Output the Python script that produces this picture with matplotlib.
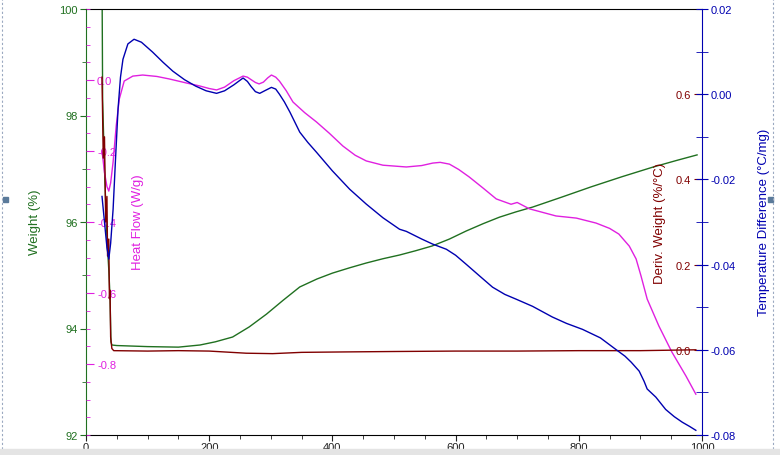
import matplotlib.pyplot as plt
from matplotlib.patches import Rectangle
from matplotlib.ticker import MultipleLocator, FormatStrFormatter

plt.rcParams['font.family'] = ['Liberation Sans', 'DejaVu Sans']

# temperature (°C) and weight (%)
w_temp = [26, 26.5, 27, 30, 34, 37, 39, 40.5, 42, 50, 100, 150, 185, 210, 238, 265, 293,
          320, 347, 375, 400, 428, 455, 482, 509, 535, 562, 590, 617, 645, 671, 698, 725,
          773, 820, 870, 920, 960, 992]
weight = [100.6, 99.5, 98.3, 97.0, 95.7, 95.1, 94.6, 93.75, 93.69, 93.68, 93.66, 93.65, 93.69,
          93.75, 93.84, 94.03, 94.27, 94.53, 94.78, 94.93, 95.04, 95.14, 95.23, 95.31, 95.38,
          95.46, 95.55, 95.68, 95.83, 95.97, 96.09, 96.19, 96.28, 96.47, 96.66, 96.85, 97.03,
          97.16, 97.26]

# heat flow (W/g)
hf_temp = [26, 30, 34, 37, 40, 44, 49, 54, 62, 76, 92, 115, 135, 162, 185, 200, 212, 225,
           240, 255, 262, 268, 275, 281, 288, 295, 301, 308, 314, 325, 336, 355, 374, 395,
           417, 437, 455, 482, 520, 545, 563, 575, 590, 605, 622, 645, 666, 690, 700, 720,
           763, 796, 828, 850, 865, 882, 893, 901, 911, 930, 951, 974, 990]
heat_flow = [-0.20, -0.26, -0.30, -0.313, -0.29, -0.231, -0.13, -0.054, -0.003, 0.011, 0.014,
             0.010, 0.003, -0.008, -0.017, -0.024, -0.028, -0.020, -0.002, 0.011, 0.008,
             0.001, -0.007, -0.011, -0.006, 0.006, 0.014, 0.008, -0.003, -0.030, -0.062,
             -0.092, -0.118, -0.150, -0.186, -0.212, -0.228, -0.240, -0.245, -0.241, -0.234,
             -0.232, -0.237, -0.252, -0.273, -0.305, -0.335, -0.350, -0.345, -0.363, -0.383,
             -0.389, -0.403, -0.418, -0.434, -0.468, -0.504, -0.552, -0.617, -0.693, -0.766,
             -0.834, -0.885]

# derivative weight (%/°C)
d_temp = [26, 28, 30, 32, 34, 35, 37, 38, 39, 40, 42, 45, 100, 150, 200, 260, 303, 350, 420,
          500, 600, 700, 800, 900, 990]
deriv = [0.64, 0.45, 0.50, 0.30, 0.36, 0.22, 0.26, 0.12, 0.14, 0.03, 0.003, -0.002, -0.003,
         -0.002, -0.003, -0.008, -0.009, -0.006, -0.005, -0.004, -0.003, -0.003, -0.002,
         -0.002, 0.0]

# temperature difference (°C/mg)
td_temp = [26, 30, 34, 37, 40, 44, 48, 52, 56, 60, 68, 78, 90, 108, 125, 141, 160, 178, 195,
           212, 225, 240, 255, 262, 268, 275, 282, 290, 301, 308, 314, 322, 331, 347, 360,
           374, 400, 428, 455, 482, 509, 520, 545, 563, 585, 600, 617, 640, 660, 680, 698,
           725, 757, 780, 806, 835, 860, 875, 885, 898, 906, 911, 925, 941, 955, 968, 980, 990]
temp_diff = [-0.024, -0.030, -0.036, -0.0387, -0.035, -0.027, -0.015, -0.0035, 0.004, 0.0082,
             0.0118, 0.0129, 0.0122, 0.0099, 0.0075, 0.0054, 0.0034, 0.0019, 0.0008, 0.0002,
             0.0008, 0.0022, 0.0038, 0.0030, 0.0018, 0.0006, 0.0002, 0.0008, 0.0016, 0.0012,
             0.0, -0.0018, -0.0042, -0.0089, -0.0113, -0.0136, -0.018, -0.0223, -0.0258,
             -0.029, -0.0317, -0.0322, -0.0340, -0.0352, -0.0364, -0.0378, -0.0399, -0.0428,
             -0.0453, -0.0470, -0.0481, -0.0498, -0.0523, -0.0538, -0.0552, -0.0572, -0.0599,
             -0.0615, -0.0629, -0.065, -0.0674, -0.0692, -0.0711, -0.074, -0.0757, -0.077,
             -0.078, -0.0789]

green = '#207020'
magenta = '#e020e0'
brown = '#800000'
blue = '#0000b0'
fs = 8

fig = plt.figure(figsize=(7.8, 4.56), dpi=100)
ax = fig.add_axes([86 / 780, 20 / 456, 616 / 780, 426 / 456])

# weight, left axis
ax.plot(w_temp, weight, color=green, lw=1)
ax.set_xlim(0, 1000)
ax.set_ylim(92, 100)
ax.xaxis.set_major_locator(MultipleLocator(200))
ax.xaxis.set_minor_locator(MultipleLocator(50))
ax.yaxis.set_major_locator(MultipleLocator(2))
ax.yaxis.set_minor_locator(MultipleLocator(1))
ax.tick_params(axis='x', which='both', direction='out', labelsize=fs, colors='#202020', pad=1)
ax.tick_params(axis='x', which='major', length=4)
ax.tick_params(axis='x', which='minor', length=3)
ax.tick_params(axis='y', which='both', direction='out', colors=green, labelsize=fs, pad=2)
ax.tick_params(axis='y', which='major', length=4)
ax.tick_params(axis='y', which='minor', length=3)
ax.spines['left'].set_color(green)
ax.spines['right'].set_visible(False)

# heat flow, axis drawn on the left spine with labels inside
ax_hf = ax.twinx()
ax_hf.plot(hf_temp, heat_flow, color=magenta, lw=1)
ax_hf.set_ylim(-1.0, 0.2)
ax_hf.spines['right'].set_position(('axes', 0))
for s in ['left', 'right', 'top', 'bottom']:
    ax_hf.spines[s].set_visible(False)
ax_hf.set_yticks([0.0, -0.2, -0.4, -0.6, -0.8])
ax_hf.yaxis.set_minor_locator(MultipleLocator(0.05))
ax_hf.yaxis.set_major_formatter(FormatStrFormatter('%.1f'))
ax_hf.tick_params(axis='y', which='both', direction='out', colors=magenta, labelsize=fs, pad=2)
ax_hf.tick_params(axis='y', which='major', length=6)
ax_hf.tick_params(axis='y', which='minor', length=3)

# derivative weight, axis on the right spine with labels inside
ax_d = ax.twinx()
ax_d.plot(d_temp, deriv, color=brown, lw=1)
ax_d.set_ylim(-0.2, 0.8)
ax_d.yaxis.tick_left()
ax_d.spines['left'].set_position(('axes', 1))
for s in ['left', 'right', 'top', 'bottom']:
    ax_d.spines[s].set_visible(False)
ax_d.set_yticks([0.0, 0.2, 0.4, 0.6])
ax_d.yaxis.set_major_formatter(FormatStrFormatter('%.1f'))
ax_d.tick_params(axis='y', which='both', direction='out', colors=brown, labelsize=fs, pad=2)
ax_d.tick_params(axis='y', which='major', length=6)

# temperature difference, right axis
ax_t = ax.twinx()
ax_t.plot(td_temp, temp_diff, color=blue, lw=1)
ax_t.set_ylim(-0.08, 0.02)
ax_t.spines['right'].set_color(blue)
for s in ['left', 'top', 'bottom']:
    ax_t.spines[s].set_visible(False)
ax_t.yaxis.set_major_locator(MultipleLocator(0.02))
ax_t.yaxis.set_minor_locator(MultipleLocator(0.01))
ax_t.yaxis.set_major_formatter(FormatStrFormatter('%.2f'))
ax_t.tick_params(axis='y', which='both', direction='inout', colors=blue, labelsize=fs, pad=2)
ax_t.tick_params(axis='y', which='major', length=8)
ax_t.tick_params(axis='y', which='minor', length=8)

# axis titles
lab = dict(rotation=90, ha='center', va='center', fontsize=9.5)
fig.text(35 / 780, 1 - 222 / 456, 'Weight (%)', color=green, **lab)
fig.text(138 / 780, 1 - 222 / 456, 'Heat Flow (W/g)', color=magenta, **lab)
fig.text(660 / 780, 1 - 223 / 456, 'Deriv. Weight (%/°C)', color=brown, **lab)
fig.text(764 / 780, 1 - 222 / 456, 'Temperature Difference (°C/mg)', color=blue, **lab)

# window decorations
fig.add_artist(plt.Line2D([2 / 780, 2 / 780], [6 / 456, 1], color='#9aa8c0', lw=0.8, ls=(0, (2, 2))))
fig.add_artist(plt.Line2D([773 / 780, 773 / 780], [6 / 456, 1], color='#9aa8c0', lw=0.8, ls=(0, (2, 2))))
fig.add_artist(Rectangle((3 / 780, 253 / 456), 5 / 780, 5 / 456, color='#5a7a9a'))
fig.add_artist(Rectangle((768 / 780, 253 / 456), 5 / 780, 5 / 456, color='#5a7a9a'))
fig.add_artist(Rectangle((0, 0), 1, 6 / 456, color='#e4e4e4', zorder=10))

fig.savefig('out.png', dpi=100)
